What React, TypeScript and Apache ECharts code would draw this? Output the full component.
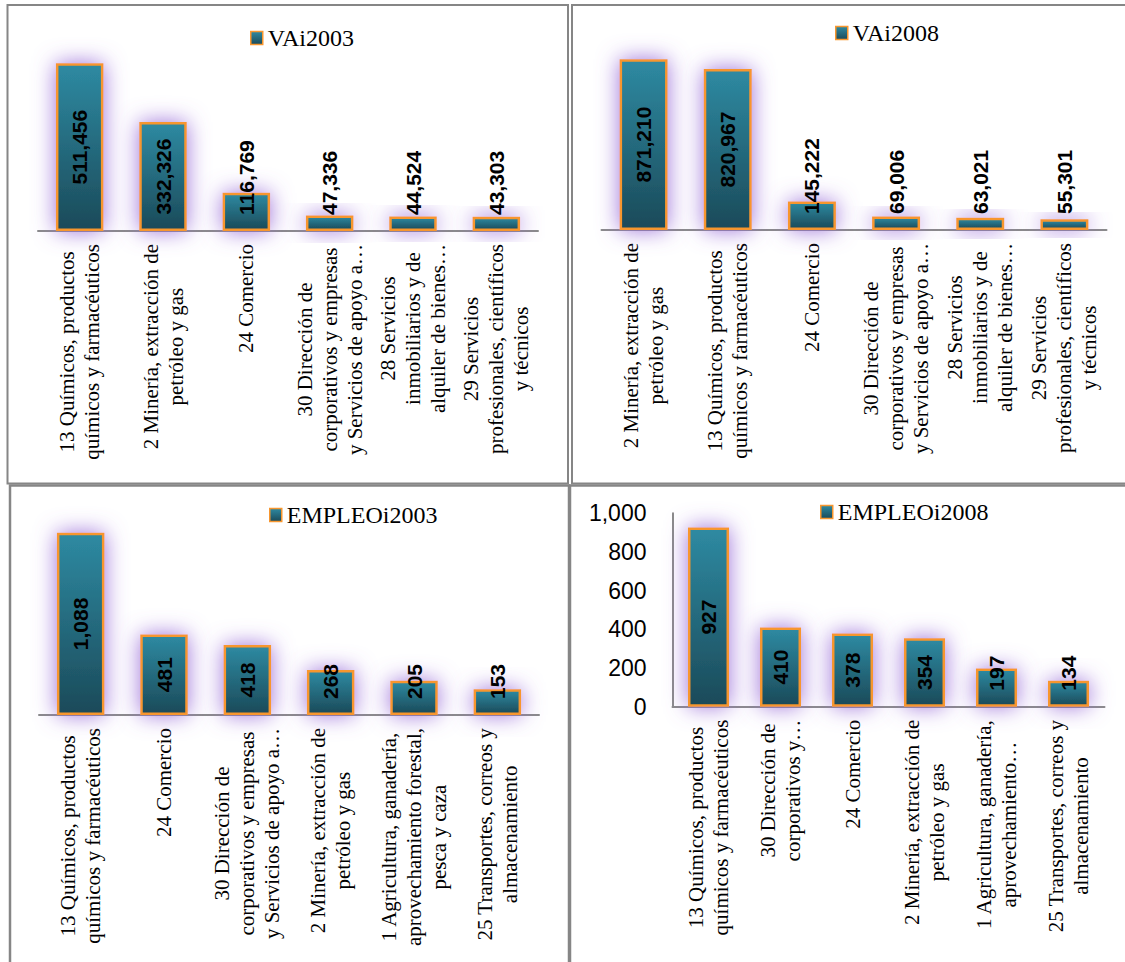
import React, { useEffect, useRef } from "react";
import * as echarts from "echarts";

// ---------- data ----------
const catsVA2003 = [
  "13 Químicos, productos\nquímicos y farmacéuticos",
  "2 Minería, extracción de\npetróleo y gas",
  "24 Comercio",
  "30 Dirección de\ncorporativos y empresas\ny Servicios de apoyo a…",
  "28 Servicios\ninmobiliarios y de\nalquiler de bienes…",
  "29 Servicios\nprofesionales, científicos\ny técnicos",
];
const va2003 = [511456, 332326, 116769, 47336, 44524, 43303];

const catsVA2008 = [
  "2 Minería, extracción de\npetróleo y gas",
  "13 Químicos, productos\nquímicos y farmacéuticos",
  "24 Comercio",
  "30 Dirección de\ncorporativos y empresas\ny Servicios de apoyo a…",
  "28 Servicios\ninmobiliarios y de\nalquiler de bienes…",
  "29 Servicios\nprofesionales, científicos\ny técnicos",
];
const va2008 = [871210, 820967, 145222, 69006, 63021, 55301];

const catsEmp2003 = [
  "13 Químicos, productos\nquímicos y farmacéuticos",
  "24 Comercio",
  "30 Dirección de\ncorporativos y empresas\ny Servicios de apoyo a…",
  "2 Minería, extracción de\npetróleo y gas",
  "1 Agricultura, ganadería,\naprovechamiento forestal,\npesca y caza",
  "25 Transportes, correos y\nalmacenamiento",
];
const emp2003 = [1088, 481, 418, 268, 205, 153];

const catsEmp2008 = [
  "13 Químicos, productos\nquímicos y farmacéuticos",
  "30 Dirección de\ncorporativos y…",
  "24 Comercio",
  "2 Minería, extracción de\npetróleo y gas",
  "1 Agricultura, ganadería,\naprovechamiento…",
  "25 Transportes, correos y\nalmacenamiento",
];
const emp2008 = [927, 410, 378, 354, 197, 134];

const seriesNames = ["VAi2003", "VAi2008", "EMPLEOi2003", "EMPLEOi2008"];
const emp2008Ticks = [0, 200, 400, 600, 800, 1000];

// label placement per bar (style, not data)
const labelModes = [
  ["in", "in", "base", "base", "base", "base"],
  ["in", "in", "base", "base", "base", "base"],
  ["in", "in", "in", "base", "base", "base"],
  ["in", "in", "in", "in", "base", "base"],
];

const SERIF = "'Liberation Serif', 'Times New Roman', serif";
const SANS = "'Liberation Sans', Arial, sans-serif";

const fmt = (v: number) => v.toLocaleString("en-US");

const barFill = new echarts.graphic.LinearGradient(0, 0, 0, 1, [
  { offset: 0, color: "#2E8AA2" },
  { offset: 1, color: "#1B4A59" },
]);

export default function App() {
  const ref = useRef<HTMLDivElement>(null);
  useEffect(() => {
    if (!ref.current) return;
    const chart = echarts.init(ref.current, undefined, { renderer: "svg" });

    const grids = [
      { left: 38, top: 34.3, width: 500, height: 196.7 },
      { left: 601.5, top: 34, width: 505, height: 196 },
      { left: 39, top: 514, width: 500, height: 201 },
      { left: 672.5, top: 513.3, width: 432, height: 193.4 },
    ];
    const cats = [catsVA2003, catsVA2008, catsEmp2003, catsEmp2008];
    const vals = [va2003, va2008, emp2003, emp2008];
    const maxes = [600000, 1000000, 1200, 1000];
    const legendPos = [
      { left: 245, top: 21 },
      { left: 830, top: 16 },
      { left: 264, top: 498 },
      { left: 815, top: 495 },
    ];

    const valueLabelBase = {
      show: true,
      rotate: 90,
      fontFamily: SANS,
      fontWeight: "bold",
      fontSize: 21,
      color: "#000",
      formatter: (p: any) => fmt(p.value),
    };
    const inLabel = { ...valueLabelBase, position: "inside", align: "center", verticalAlign: "middle" };
    const baseLabel = { ...valueLabelBase, position: "insideBottom", distance: 16, align: "left", verticalAlign: "middle" };

    const option: any = {
      animation: false,
      backgroundColor: "#fff",
      grid: grids,
      legend: seriesNames.map((n, i) => ({
        data: [n],
        left: legendPos[i].left,
        top: legendPos[i].top,
        itemWidth: 12,
        itemHeight: 13,
        icon: "rect",
        itemStyle: { borderColor: "#F7962F", borderWidth: 1.5, shadowBlur: 0 },
        textStyle: { fontFamily: SERIF, fontSize: 24, color: "#000", lineHeight: 24 },
        selectedMode: false,
      })),
      xAxis: cats.map((c, i) => ({
        type: "category",
        gridIndex: i,
        data: c,
        axisLine: { show: true, lineStyle: { color: "#8A8A8A", width: 2 } },
        axisTick: { show: false },
        axisLabel: {
          interval: 0,
          rotate: 90,
          margin: 13,
          formatter: (v: string) => v.split("\n").map((l) => `{c|${l}}`).join("\n"),
          rich: {
            c: { align: "center", fontFamily: SERIF, fontSize: 21, lineHeight: 25, color: "#000" },
          },
        },
      })),
      yAxis: maxes.map((m, i) =>
        i === 3
          ? {
              type: "value",
              gridIndex: i,
              min: 0,
              max: m,
              interval: 200,
              splitLine: { show: false },
              axisTick: { show: false },
              axisLine: { show: true, lineStyle: { color: "#8A8A8A", width: 2 } },
              axisLabel: {
                margin: 26,
                fontFamily: SANS,
                fontSize: 23,
                color: "#000",
                formatter: (v: number) => (emp2008Ticks.includes(v) ? fmt(v) : ""),
              },
            }
          : { type: "value", gridIndex: i, min: 0, max: m, show: false, splitLine: { show: false } }
      ),
      series: seriesNames.map((n, i) => ({
        name: n,
        type: "bar",
        xAxisIndex: i,
        yAxisIndex: i,
        barWidth: "57%",
        itemStyle: {
          color: barFill,
          borderColor: "#F7962F",
          borderWidth: 2.5,
          shadowBlur: 22,
          shadowColor: "rgba(150,105,215,0.95)",
        },
        data: vals[i].map((v, j) => ({
          value: v,
          label: labelModes[i][j] === "in" ? inLabel : baseLabel,
        })),
      })),
      graphic: [
        { type: "rect", shape: { x: 7.5, y: 5, width: 560.5, height: 478.5 }, style: { fill: "none", stroke: "#868686", lineWidth: 2 }, z: 100 },
        { type: "rect", shape: { x: 572, y: 5, width: 600, height: 478.5 }, style: { fill: "none", stroke: "#868686", lineWidth: 2 }, z: 100 },
        { type: "rect", shape: { x: 10, y: 485.5, width: 559, height: 520 }, style: { fill: "none", stroke: "#868686", lineWidth: 2.5 }, z: 100 },
        { type: "rect", shape: { x: 570, y: 485.5, width: 600, height: 520 }, style: { fill: "none", stroke: "#868686", lineWidth: 2.5 }, z: 100 },
      ],
    };
    chart.setOption(option);
    return () => chart.dispose();
  }, []);
  return <div ref={ref} style={{ position: "absolute", left: 0, top: 0, width: 1125, height: 962 }} />;
}
